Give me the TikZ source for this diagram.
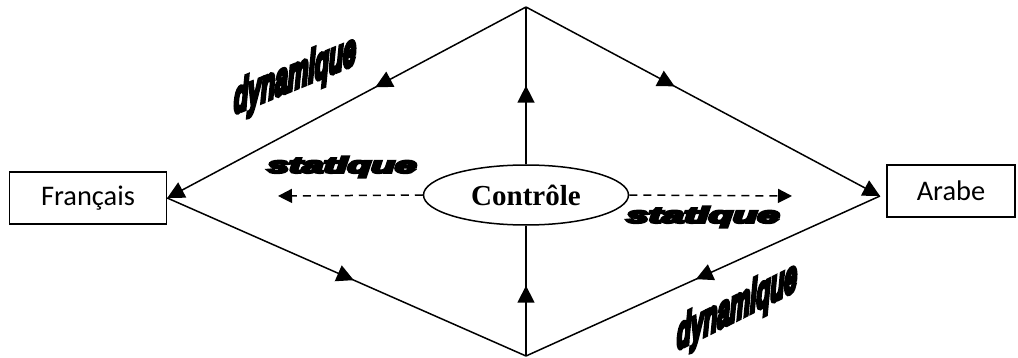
\documentclass[tikz,border=0pt]{standalone}
\usepackage{fontspec}
\usepackage{graphicx}
\usepackage{tikz}
\usetikzlibrary{arrows.meta, shapes, decorations.markings}
\setmainfont{Carlito}
\newfontfamily\timesfont{Liberation Serif}
\newfontfamily\artfont{Liberation Sans Bold Italic}[FakeBold=10]
\tikzset{midtip/.style={postaction={decorate}, decoration={markings,
	mark=at position #1 with {\arrow{Triangle[length=8.5pt,width=8.5pt]}}}}}

\begin{document}
\begin{tikzpicture}[x=0.5pt,y=-0.5pt]
		\tikzstyle{every node} = [font = \fontsize{14.2}{16}\selectfont]
		\tikzstyle{langbox} = [draw, line width=0.75pt, inner sep=0pt, minimum height=26pt]
		\tikzstyle{link} = [draw, line width=0.75pt]
		\tikzstyle{tip} = [-{Triangle[length=8.5pt,width=8.5pt]}]
		\tikzstyle{dashtip} = [dash pattern=on 4pt off 3pt, -{Triangle[length=7pt,width=7pt]}]
		\tikzstyle{art} = [inner sep=0pt]
				\useasboundingbox (0,0) rectangle (1018,358);
				\node[langbox, minimum width=78.5pt] (fr) at (88,198) {Français};
				\node[langbox, minimum width=64pt] (ar) at (951,191) {Arabe};
				\node[draw, ellipse, line width=0.75pt, inner sep=0pt,
					minimum width=102.5pt, minimum height=30pt,
					font=\timesfont\bfseries\fontsize{14.5}{16}\selectfont] (ctl) at (526,195) {Contr\^ole};
				\coordinate (top) at (526,7);
				\coordinate (bot) at (526,356);
				\coordinate (arL) at (880,196);
				\coordinate (stL) at (278,196);
				\coordinate (stR) at (792,196);
				\path[link,tip,midtip=0.42] (top)--
					(fr.east);
				\path[link,tip,midtip=0.42] (top)--
					(arL);
				\path[link,midtip=0.52] (fr.east)--
					(bot);
				\path[link,midtip=0.52] (arL)--
					(bot);
				\path[link,midtip=0.54] (bot)--
					(ctl.south);
				\path[link,midtip=0.5] (ctl.north)--
					(top);
				\path[link,dashtip] (ctl.west)--
					(stL);
				\path[link,dashtip] (ctl.east)--
					(stR);
				\node[art, yslant=0.41] (dynA) at (295,77) {\resizebox*{61pt}{21pt}{\artfont dynamique}};
				\node[art, yslant=0.5] (dynB) at (737,308) {\resizebox*{60pt}{21pt}{\artfont dynamique}};
				\node[art] (statA) at (342,167) {\resizebox*{74.5pt}{10.5pt}{\artfont statique}};
				\node[art] (statB) at (703,217) {\resizebox*{76.5pt}{10.5pt}{\artfont statique}};
	\end{tikzpicture}
\end{document}
